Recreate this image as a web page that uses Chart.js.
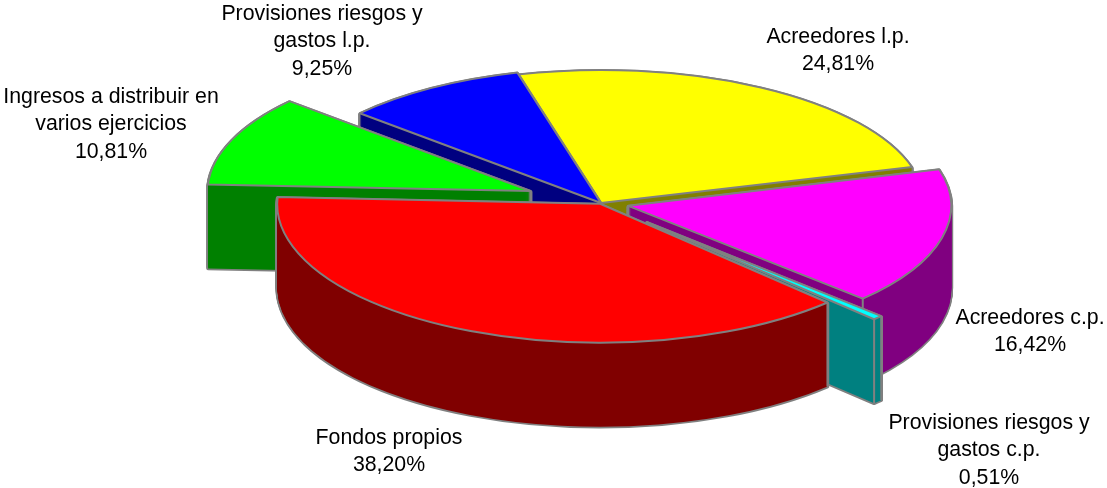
<!DOCTYPE html>
<html lang="en">
<head>
<meta charset="UTF-8">
<title>Pasivo</title>
<script src="https://cdn.jsdelivr.net/npm/chart.js"></script>
<style>
    body { margin: 0; background: #fff; }
    canvas { display: block; }
</style>
</head>
<body>
<canvas id="pieChart" width="1107" height="488"></canvas>
<script>
    // slices in clockwise order, starting at the yellow one
    const categories = [
        ["Acreedores l.p."],
        ["Acreedores c.p."],
        ["Provisiones riesgos y", "gastos c.p."],
        ["Fondos propios"],
        ["Ingresos a distribuir en", "varios ejercicios"],
        ["Provisiones riesgos y", "gastos l.p."]
    ];
    const values = [24.81, 16.42, 0.51, 38.20, 10.81, 9.25];
    const valueLabels = ["24,81%", "16,42%", "0,51%", "38,20%", "10,81%", "9,25%"];
    const explode = [0, 28, 64, 2, 76, 0];

    const topColors = ["#ffff00", "#ff00ff", "#00ffff", "#ff0000", "#00ff00", "#0000ff"];
    const sideColors = ["#808000", "#800080", "#008080", "#800000", "#008000", "#000080"];
    const drawOrder = [0, 5, 4, 1, 2, 3];
    const labelPos = [[838, 37], [1030, 318], [989, 423], [389, 438], [111, 97], [322, 14]];
    // the original has some perspective: the front slices are a bit taller
    const radiusY = [133, 135, 137, 139, 135, 135];

    const GREY = "#808080";
    const CX = 601, CY = 203, RX = 323, DEPTH = 84;

    function slicePath(ctx, arc, ox, oy, ry) {
        const k = arc.outerRadius;
        ctx.save();
        ctx.translate(ox, oy);
        ctx.scale(RX / k, ry / k);
        ctx.beginPath();
        ctx.moveTo(0, 0);
        ctx.arc(0, 0, k, arc.startAngle, arc.endAngle);
        ctx.closePath();
        ctx.restore();
    }

    function fillSlice(ctx, arc, ox, oy, ry, color) {
        const k = arc.outerRadius;
        const saved = arc.options;
        arc.options = { backgroundColor: color, borderColor: color, borderWidth: 0, offset: 0, spacing: 0, circular: true, borderAlign: "center", borderRadius: 0 };
        ctx.save();
        ctx.translate(ox, oy);
        ctx.scale(RX / k, ry / k);
        ctx.translate(-arc.x, -arc.y);
        arc.draw(ctx);
        ctx.restore();
        arc.options = saved;
    }

    const pie3d = {
        id: "pie3d",
        beforeDatasetsDraw(chart) {
            const ctx = chart.ctx;
            const arcs = chart.getDatasetMeta(0).data;
            ctx.lineJoin = "round";
            ctx.strokeStyle = GREY;

            drawOrder.forEach(i => {
                const arc = arcs[i];
                const ry = radiusY[i];
                const mid = (arc.startAngle + arc.endAngle) / 2;
                const ox = CX + Math.cos(mid) * explode[i];
                const oy = CY + Math.sin(mid) * explode[i] * ry / RX;

                // wall: grey silhouette first, dark fill on top of it
                ctx.lineWidth = 3.5;
                for (let d = DEPTH; d > 0; d--) {
                    slicePath(ctx, arc, ox, oy + d, ry);
                    ctx.stroke();
                }
                for (let d = DEPTH; d > 0; d--) {
                    fillSlice(ctx, arc, ox, oy + d, ry, sideColors[i]);
                }

                // vertical edges: corners on the front half only, and the apex
                ctx.lineWidth = 2;
                [arc.startAngle, arc.endAngle].forEach(a => {
                    if (Math.sin(a) <= 0) return;
                    const x = ox + Math.cos(a) * RX;
                    const y = oy + Math.sin(a) * ry;
                    ctx.beginPath();
                    ctx.moveTo(x, y);
                    ctx.lineTo(x, y + DEPTH);
                    ctx.stroke();
                });
                ctx.beginPath();
                ctx.moveTo(ox, oy);
                ctx.lineTo(ox, oy + DEPTH);
                ctx.stroke();

                fillSlice(ctx, arc, ox, oy, ry, topColors[i]);
                slicePath(ctx, arc, ox, oy, ry);
                ctx.stroke();
            });
            return false;
        },
        afterDraw(chart) {
            const ctx = chart.ctx;
            ctx.save();
            ctx.font = "21.3px 'Liberation Sans', Arial, sans-serif";
            ctx.fillStyle = "#000";
            ctx.textAlign = "center";
            ctx.textBaseline = "middle";
            categories.forEach((lines, i) => {
                const [x, y] = labelPos[i];
                lines.concat(valueLabels[i]).forEach((line, n) => {
                    ctx.fillText(line, x, y + n * 27.4);
                });
            });
            ctx.restore();
        }
    };

    new Chart(document.getElementById("pieChart"), {
        type: "pie",
        data: {
            labels: categories.map(c => c.join(" ")),
            datasets: [{ data: values, backgroundColor: topColors, borderWidth: 0 }]
        },
        options: {
            responsive: false,
            animation: false,
            rotation: -15,
            plugins: { legend: { display: false }, tooltip: { enabled: false } }
        },
        plugins: [pie3d]
    });
</script>
</body>
</html>
